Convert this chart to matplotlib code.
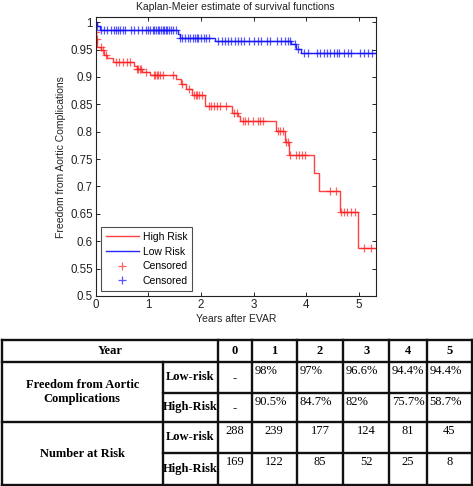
import numpy as np
import matplotlib
matplotlib.use("Agg")
import matplotlib.pyplot as plt
from matplotlib.lines import Line2D

# ---------------- data ----------------
low_times = [0.0, 0.02, 0.08, 1.57, 1.60, 2.27, 3.72, 3.80, 3.90]
low_surv = [1.0, 0.993, 0.986, 0.978, 0.971, 0.966, 0.960, 0.952, 0.944]

high_times = [0.0, 0.005, 0.015, 0.03, 0.11, 0.15, 0.21, 0.33, 0.72, 0.78, 0.88,
              1.04, 1.52, 1.62, 1.72, 1.83, 2.07, 2.59, 2.70, 2.74, 3.42, 3.60,
              3.67, 4.14, 4.24, 4.64, 4.98]
high_surv = [1.0, 0.982, 0.969, 0.955, 0.949, 0.940, 0.934, 0.927, 0.920, 0.915,
             0.910, 0.904, 0.896, 0.887, 0.878, 0.868, 0.847, 0.835, 0.829, 0.820,
             0.801, 0.782, 0.757, 0.724, 0.692, 0.653, 0.587]

followup_end = 5.30

low_censor = [0.02, 0.10, 0.16, 0.22, 0.30, 0.35, 0.39, 0.43, 0.47, 0.52, 0.56,
              0.68, 0.72, 0.80, 0.88, 0.95, 1.00, 1.04, 1.08, 1.11, 1.14, 1.18,
              1.21, 1.24, 1.27, 1.30, 1.33, 1.36, 1.39, 1.43, 1.47, 1.52, 1.60,
              1.64, 1.70, 1.76, 1.80, 1.84, 1.88, 1.92, 1.95, 2.00, 2.05, 2.10,
              2.16, 2.32, 2.40, 2.46, 2.52, 2.58, 2.64, 2.70, 2.76, 2.82, 2.92,
              3.00, 3.08, 3.15, 3.25, 3.32, 3.45, 3.52, 3.60, 3.65, 3.70, 3.78,
              3.85, 3.96, 4.03, 4.20, 4.27, 4.33, 4.40, 4.46, 4.52, 4.58, 4.63,
              4.72, 4.80, 4.86, 5.02, 5.10, 5.17, 5.25]
high_censor = [0.01, 0.02, 0.10, 0.14, 0.20, 0.38, 0.45, 0.52, 0.60, 0.66,
               0.78, 0.80, 0.84, 0.87, 0.95, 1.10, 1.13, 1.16, 1.19, 1.22, 1.28,
               1.47, 1.64, 1.78, 1.87, 1.90, 1.93, 1.97, 2.02, 2.15, 2.20, 2.25,
               2.30, 2.36, 2.48, 2.63, 2.68, 2.80, 2.84, 2.90, 2.98, 3.08, 3.12,
               3.17, 3.46, 3.50, 3.55, 3.62, 3.66, 3.70, 3.80, 3.86, 3.92, 3.98,
               4.45, 4.57, 4.67, 4.72, 4.78, 4.86, 4.92, 5.10, 5.24]

xticks = [0, 1, 2, 3, 4, 5]
yticks = [0.5, 0.55, 0.6, 0.65, 0.7, 0.75, 0.8, 0.85, 0.9, 0.95, 1.0]
ytick_labels = ["0.5", "0.55", "0.6", "0.65", "0.7", "0.75", "0.8", "0.85", "0.9", "0.95", "1"]

years = ["0", "1", "2", "3", "4", "5"]
free_low = ["-", "98%", "97%", "96.6%", "94.4%", "94.4%"]
free_high = ["-", "90.5%", "84.7%", "82%", "75.7%", "58.7%"]
risk_low = ["288", "239", "177", "124", "81", "45"]
risk_high = ["169", "122", "85", "52", "25", "8"]

# ---------------- figure ----------------
W, H = 473, 486
fig = plt.figure(figsize=(W / 100, H / 100), dpi=100)
sans = ["Liberation Sans", "DejaVu Sans"]
serif = ["Liberation Serif", "DejaVu Serif"]

ax_l, ax_r, ax_t, ax_b = 95.7, 375.7, 17.3, 296.0
ax = fig.add_axes([ax_l / W, 1 - ax_b / H, (ax_r - ax_l) / W, (ax_b - ax_t) / H])


def step_xy(times, surv, end):
    t = list(times) + [end]
    s = list(surv) + [surv[-1]]
    return t, s


def surv_at(times, surv, tc):
    idx = np.searchsorted(np.asarray(times), np.asarray(tc), side="right") - 1
    return np.asarray(surv)[idx]


tl, sl = step_xy(low_times, low_surv, followup_end)
th, sh = step_xy(high_times, high_surv, followup_end)
red = "#ff2020"
blue = "#1010ff"
ax.step(th, sh, where="post", color=red, lw=1.0, alpha=0.85, label="High Risk")
ax.step(tl, sl, where="post", color=blue, lw=1.0, alpha=0.9, label="Low Risk")
ax.plot(high_censor, surv_at(high_times, high_surv, high_censor), ls="none",
        marker="+", ms=5.5, mew=0.9, color=red, alpha=0.7, label="Censored")
ax.plot(low_censor, surv_at(low_times, low_surv, low_censor), ls="none",
        marker="+", ms=5.5, mew=0.9, color=blue, alpha=0.7, label="Censored")

ax.set_xlim(0, 5.32)
ax.set_ylim(0.5, 1.009)
ax.set_xticks(xticks)
ax.set_xticklabels([str(x) for x in xticks], fontsize=8.3, family=sans, color="#222222")
ax.set_yticks(yticks)
ax.set_yticklabels(ytick_labels, fontsize=8.3, family=sans, color="#222222")
ax.tick_params(direction="in", top=True, right=True, length=3, width=0.6, pad=2)
for sp in ax.spines.values():
    sp.set_linewidth(0.8)
    sp.set_color("#222222")
ax.set_xlabel("Years after EVAR", fontsize=7.5, family=sans, color="#222222", labelpad=2)
ax.set_ylabel("Freedom from Aortic Complications", fontsize=7.5, family=sans,
              color="#222222", labelpad=3)
ax.set_title("Kaplan-Meier estimate of survival functions", fontsize=7.5, family=sans,
             color="#222222", pad=5)

leg = ax.legend(loc="lower left", prop={"family": sans, "size": 7.5},
                handlelength=3.2, borderaxespad=0.5, frameon=True, fancybox=False,
                borderpad=0.45, labelspacing=0.45, handletextpad=0.35)
leg.get_frame().set_edgecolor("#222222")
leg.get_frame().set_linewidth(0.8)

# ---------------- table ----------------
def fx(px):
    return px / W


def fy(py):
    return 1 - py / H


col_x = [1.7, 162.7, 218.3, 251.7, 296.7, 343.3, 389.3, 427.0, 471.7]
row_y = [340.0, 362.3, 392.5, 422.0, 452.7, 485.0]
lw_tab = 1.7
tc = "#111111"


def hline(y, x0, x1):
    fig.add_artist(Line2D([fx(x0), fx(x1)], [fy(y), fy(y)], lw=lw_tab, color=tc))


def vline(x, y0, y1):
    fig.add_artist(Line2D([fx(x), fx(x)], [fy(y0), fy(y1)], lw=lw_tab, color=tc))


# outer
hline(row_y[0], col_x[0], col_x[-1])
hline(row_y[-1], col_x[0], col_x[-1])
vline(col_x[0], row_y[0], row_y[-1])
vline(col_x[-1], row_y[0], row_y[-1])
# horizontal inner
hline(row_y[1], col_x[0], col_x[-1])
hline(row_y[2], col_x[1], col_x[-1])
hline(row_y[3], col_x[0], col_x[-1])
hline(row_y[4], col_x[1], col_x[-1])
# vertical inner
vline(col_x[1], row_y[1], row_y[-1])
for x in col_x[2:-1]:
    vline(x, row_y[0], row_y[-1])

fs = 9.0
# header
fig.text(fx((col_x[0] + col_x[2]) / 2), fy((row_y[0] + row_y[1]) / 2), "Year",
         ha="center", va="center", family=serif, weight="bold", fontsize=fs)
for i, y in enumerate(years):
    cx = (col_x[2 + i] + col_x[3 + i]) / 2
    fig.text(fx(cx), fy((row_y[0] + row_y[1]) / 2), y, ha="center", va="center",
             family=serif, weight="bold", fontsize=fs)

fig.text(fx((col_x[0] + col_x[1]) / 2), fy((row_y[1] + row_y[3]) / 2),
         "Freedom from Aortic\nComplications", ha="center", va="center",
         family=serif, weight="bold", fontsize=fs, linespacing=1.25)
fig.text(fx((col_x[0] + col_x[1]) / 2), fy((row_y[3] + row_y[5]) / 2),
         "Number at Risk", ha="center", va="center",
         family=serif, weight="bold", fontsize=fs)

labels_col = ["Low-risk", "High-Risk", "Low-risk", "High-Risk"]
for r, lab in enumerate(labels_col):
    fig.text(fx((col_x[1] + col_x[2]) / 2), fy((row_y[1 + r] + row_y[2 + r]) / 2),
             lab, ha="center", va="center", family=serif, weight="bold", fontsize=fs)

for r, vals in enumerate([free_low, free_high]):
    y0, y1 = row_y[1 + r], row_y[2 + r]
    for i, v in enumerate(vals):
        if v == "-":
            fig.text(fx((col_x[2 + i] + col_x[3 + i]) / 2), fy((y0 + y1) / 2 + 1), v,
                     ha="center", va="center", family=serif, fontsize=fs, weight="bold")
        else:
            fig.text(fx(col_x[2 + i] + 2.5), fy(y0 + 3), v, ha="left", va="top",
                     family=serif, fontsize=fs)

for r, vals in enumerate([risk_low, risk_high]):
    y0 = row_y[3 + r]
    for i, v in enumerate(vals):
        fig.text(fx((col_x[2 + i] + col_x[3 + i]) / 2), fy(y0 + 3), v,
                 ha="center", va="top", family=serif, fontsize=fs)

fig.savefig("out.png", dpi=100)
